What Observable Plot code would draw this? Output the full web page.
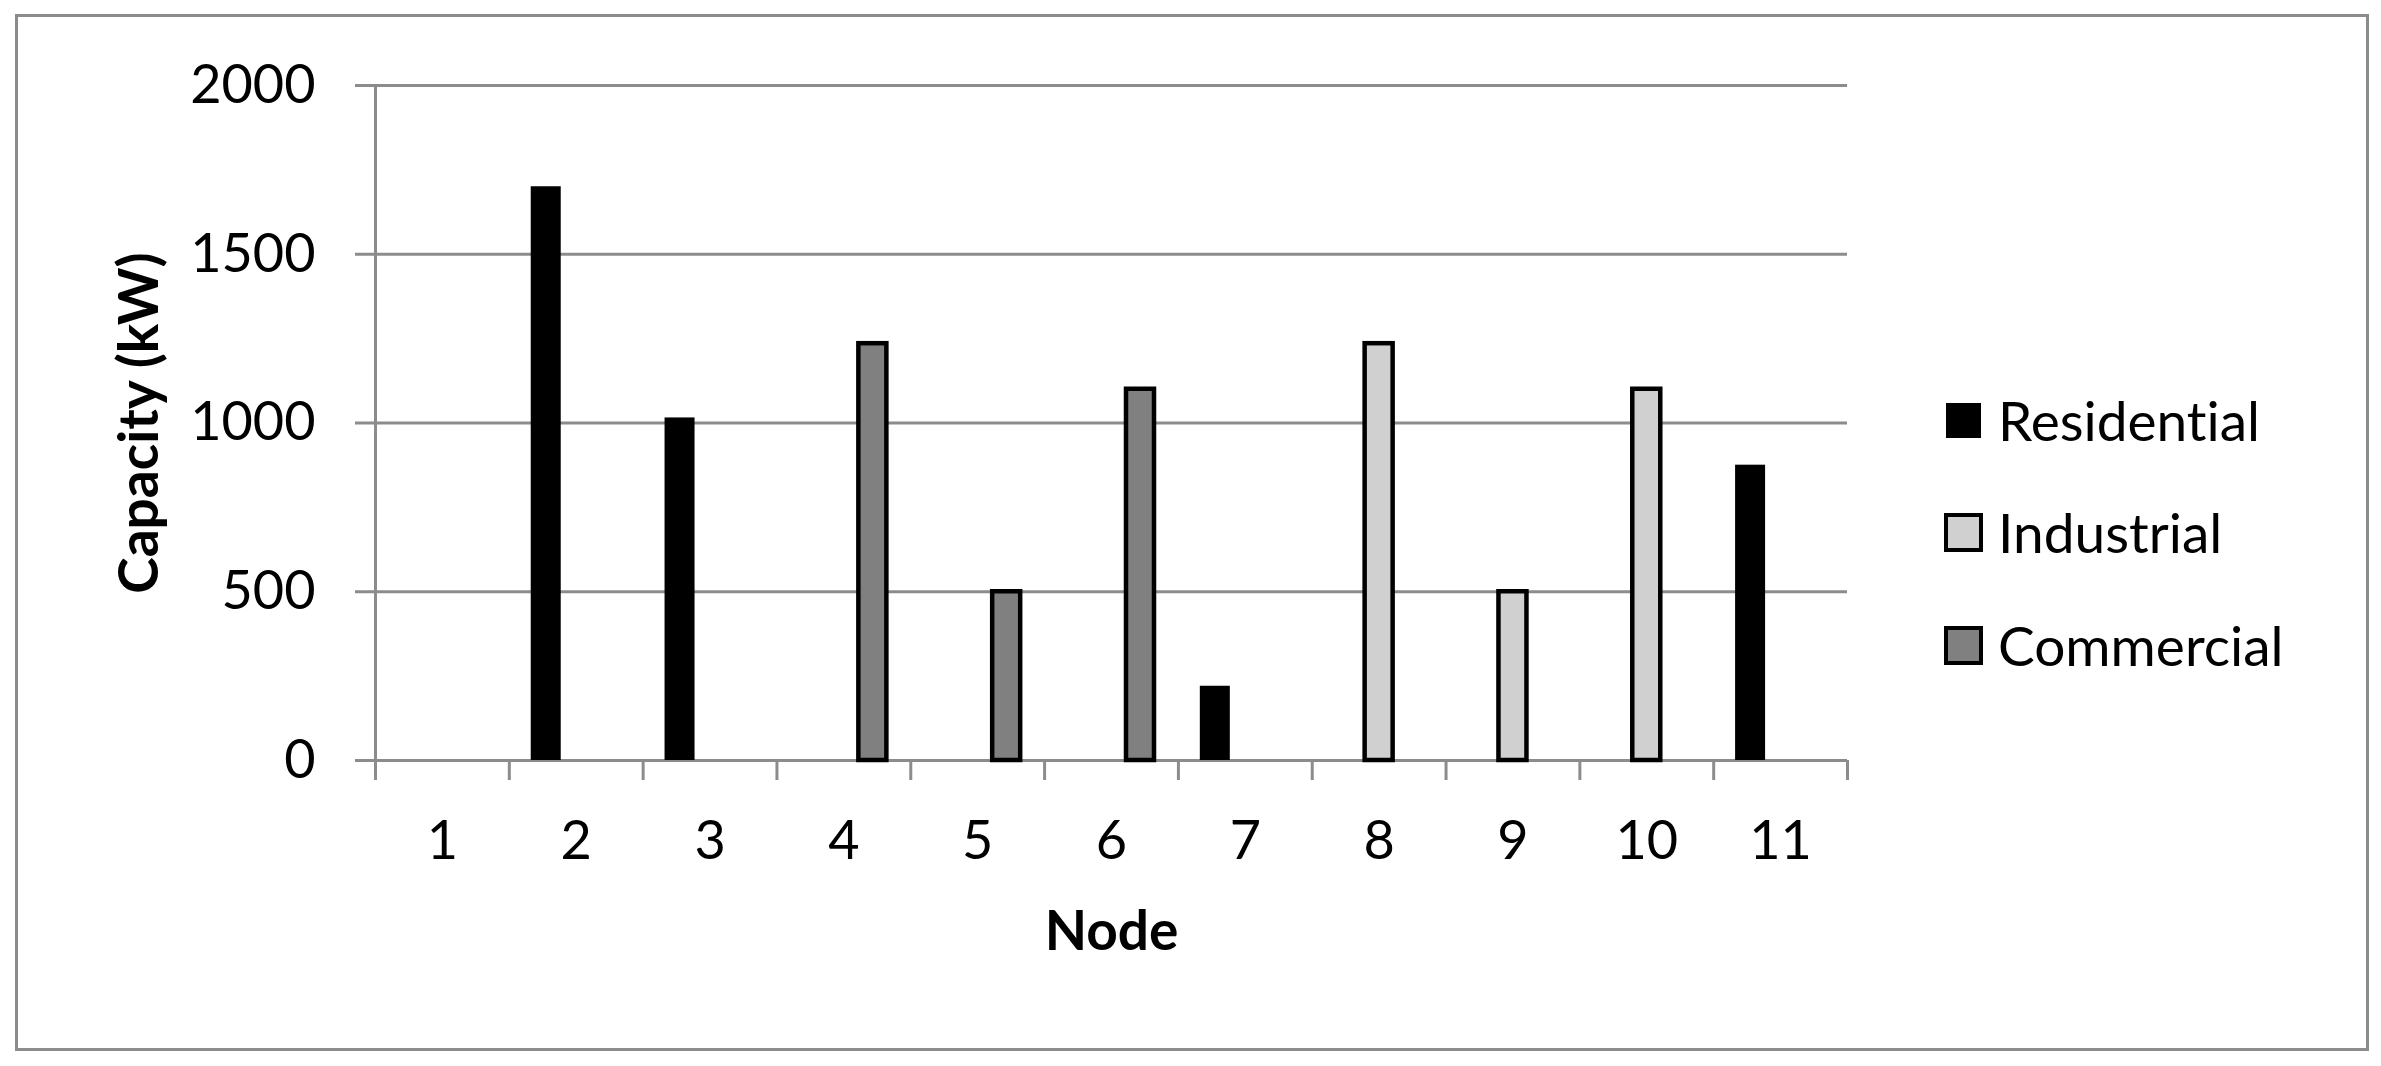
<!DOCTYPE html>
<html>
<head>
<meta charset="utf-8">
<script src="https://cdn.jsdelivr.net/npm/d3@7"></script>
<script src="https://cdn.jsdelivr.net/npm/@observablehq/plot@0.6"></script>
<style>
  html, body { margin: 0; padding: 0; background: #fff; overflow: hidden; }
  #wrap { position: relative; width: 2381px; height: 1066px; font-family: Lato, "Open Sans", sans-serif; font-variant-ligatures: none; }
  #border { position: absolute; left: 15px; top: 14px; width: 2348px; height: 1031px; border: 3px solid #8c8c8c; }
  #chart { position: absolute; left: 0; top: 0; }
  #chart svg { display: block; font-variant-ligatures: none; }
  .lg-row { position: absolute; left: 1944px; display: flex; align-items: center; height: 40px; }
  .lg-sw { box-sizing: border-box; width: 39px; height: 39px; }
  .lg-tx { margin-left: 15px; font-size: 55px; color: #000; line-height: 1; white-space: nowrap; }
</style>
</head>
<body>
<div id="wrap">
  <div id="border"></div>
  <div id="chart"></div>
  <div id="legend"></div>
</div>
<script>
// ---- data ----
const nodes = [1, 2, 3, 4, 5, 6, 7, 8, 9, 10, 11];
const seriesNames = ["Residential", "Industrial", "Commercial"];
const residential = [null, 1700, 1015, null, null, null, 220, null, null, null, 875];
const industrial  = [null, null, null, null, null, null, null, 1235, 500, 1100, null];
const commercial  = [null, null, null, 1235, 500, 1100, null, null, null, null, null];
const yTicks = [0, 500, 1000, 1500, 2000];

// ---- styles ----
const fills = {Residential: "#000000", Industrial: "#d0d0d0", Commercial: "#808080"};
const strokes = {Residential: "none", Industrial: "#000000", Commercial: "#000000"};
const gridColor = "#8c8c8c";

const W = 2381, H = 1066;
const mL = 375, mR = 534, mT = 85, mB = 306;
const bw = (W - mL - mR) / nodes.length; // band width per node in px
const slot = 30;

const valuesBySeries = {Residential: residential, Industrial: industrial, Commercial: commercial};
const data = seriesNames.flatMap(s =>
  nodes.map((n, i) => ({node: n, type: s, value: valuesBySeries[s][i]})).filter(d => d.value != null)
);

const boundaries = d3.range(0.5, nodes.length + 1, 1);

function barMark(type, offsetSlots, stroked) {
  const w = stroked ? slot - 2 : slot;
  const centre = bw / 2 + offsetSlots * slot - (stroked && offsetSlots > 0 ? 1 : 0);
  const insetLeft = centre - w / 2;
  const insetRight = bw - insetLeft - w;
  return Plot.rectY(data.filter(d => d.type === type), {
    x1: d => d.node - 0.5,
    x2: d => d.node + 0.5,
    y1: 0,
    y2: "value",
    fill: fills[type],
    stroke: strokes[type],
    strokeWidth: stroked ? 4.5 : 0,
    insetLeft, insetRight
  });
}

const chart = Plot.plot({
  width: W, height: H,
  marginLeft: mL, marginRight: mR, marginTop: mT, marginBottom: mB,
  x: {domain: [0.5, nodes.length + 0.5]},
  y: {domain: [0, 2000]},
  style: {fontFamily: "Lato, 'Open Sans', sans-serif", background: "transparent", color: "#000"},
  marks: [
    Plot.gridY(yTicks, {stroke: gridColor, strokeOpacity: 1, strokeWidth: 3, insetLeft: -20}),
    Plot.ruleX([0.5], {y1: 0, y2: 2000, stroke: gridColor, strokeWidth: 3}),
    Plot.axisX(boundaries, {tickSize: 20, stroke: gridColor, strokeWidth: 3, tickFormat: () => "", label: null}),
    Plot.axisX(nodes, {tickSize: 0, tickPadding: 60, fontSize: 54, tickFormat: d => String(d), label: null}),
    Plot.axisY(yTicks, {tickSize: 0, tickPadding: 60, fontSize: 54, tickFormat: d => String(d), label: null}),
    barMark("Residential", -1, false),
    barMark("Industrial", 0, true),
    barMark("Commercial", 1, true),
    Plot.text(["Node"], {frameAnchor: "bottom", textAnchor: "middle", dy: 189, fontSize: 55, fontWeight: "bold", fill: "#000"}),
    Plot.text(["Capacity (kW)"], {frameAnchor: "left", textAnchor: "middle", dx: -235, rotate: -90, fontSize: 55, fontWeight: "bold", fill: "#000"})
  ]
});
document.getElementById("chart").appendChild(chart);

// ---- legend ----
const legendCentres = [420, 532, 645];
const legend = document.getElementById("legend");
seriesNames.forEach((s, i) => {
  const row = document.createElement("div");
  row.className = "lg-row";
  row.style.top = (legendCentres[i] - 20) + "px";
  const sw = document.createElement("div");
  sw.className = "lg-sw";
  sw.style.background = fills[s];
  if (strokes[s] !== "none") {
    sw.style.border = "4px solid " + strokes[s];
  } else {
    sw.style.width = "35px"; sw.style.height = "35px"; sw.style.marginLeft = "2px"; sw.style.marginRight = "2px";
  }
  const tx = document.createElement("div");
  tx.className = "lg-tx";
  tx.textContent = s;
  row.appendChild(sw);
  row.appendChild(tx);
  legend.appendChild(row);
});
</script>
</body>
</html>
